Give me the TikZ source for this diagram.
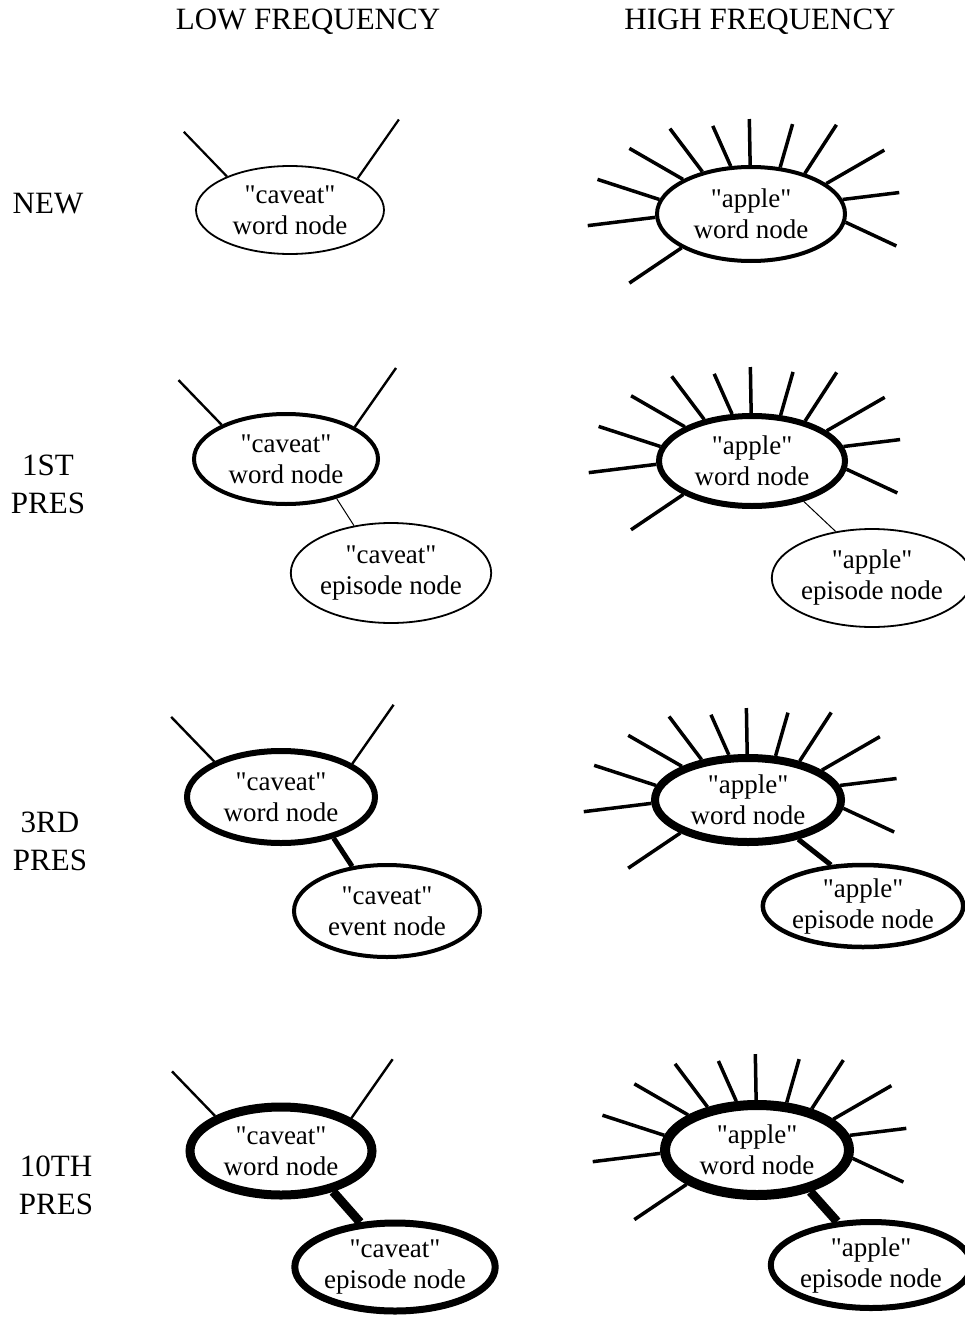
\documentclass[tikz,border=0pt]{standalone}
\usepackage{fontspec}
\setmainfont{Liberation Serif}[Ligatures=TeXOff]
\usetikzlibrary{shapes.geometric}
\newcommand\hirays[2]{%
  \foreach \a/\b/\l in {182/187/68, 171/162/65, 153/150/62, 139/127/54, 113/114/44, 91/91/46, 58/74/45, 37/57/58, 22/30/67, 9/7/57, -5/-25/56, 206/214/63}
    \draw[line width=#2] (#1.\a) -- ++(\b:\l);}
\newcommand\lorays[2]{%
  \foreach \a/\b/\l in {152/134/62, 25/55/72}
    \draw[line width=#2] (#1.\a) -- ++(\b:\l);}
\begin{document}
\begin{tikzpicture}[x=1pt,y=1pt,
  nd/.style={ellipse, draw, inner sep=0pt, align=center, font=\fontsize{27}{31}\selectfont},
  lab/.style={align=center, font=\fontsize{31}{38}\selectfont},
  link/.style={line width=#1}]
\useasboundingbox (0,0) rectangle (965,-1319);
% headers
\node[lab] (hlow) at (308,-22) {LOW FREQUENCY};
\node[lab] (hhigh) at (760,-22) {HIGH FREQUENCY};
% row labels
\node[lab] (lnew) at (48,-204) {NEW};
\node[lab] (l1st) at (48,-484) {1ST\\PRES};
\node[lab] (l3rd) at (50,-841) {3RD\\PRES};
\node[lab] (l10th) at (56,-1185) {10TH\\PRES};
% row 1
\node[nd, line width=1.8, minimum width=188, minimum height=88] (w1l) at (290,-210) {"caveat"\\word node};
\lorays{w1l}{2.2}
\node[nd, line width=4, minimum width=188, minimum height=94] (w1r) at (751,-214) {"apple"\\word node};
\hirays{w1r}{3.5}
% row 2
\node[nd, line width=4, minimum width=184, minimum height=90] (w2l) at (286,-459) {"caveat"\\word node};
\lorays{w2l}{2.4}
\node[nd, line width=1.8, minimum width=186, minimum height=100] (e2l) at (391,-573) {"caveat"\\episode node};
\draw[link=1] (w2l.-38) -- (e2l.128);
\node[nd, line width=6, minimum width=186, minimum height=90] (w2r) at (752,-461) {"apple"\\word node};
\hirays{w2r}{3.5}
\node[nd, line width=1.8, minimum width=180, minimum height=98] (e2r) at (872,-578) {"apple"\\episode node};
\draw[link=1] (w2r.-38) -- (e2r.128);
% row 3
\node[nd, line width=6, minimum width=188, minimum height=92] (w3l) at (281,-797) {"caveat"\\word node};
\lorays{w3l}{2.4}
\node[nd, line width=4, minimum width=186, minimum height=92] (e3l) at (387,-911) {"caveat"\\event node};
\draw[link=5] (w3l.-38) -- (e3l.128);
\node[nd, line width=8, minimum width=186, minimum height=84] (w3r) at (748,-800) {"apple"\\word node};
\hirays{w3r}{3.5}
\node[nd, line width=4.5, minimum width=176, minimum height=82] (e3r) at (863,-906) {"apple"\\episode node};
\draw[link=5] (w3r.-38) -- (e3r.128);
% row 4
\node[nd, line width=9, minimum width=182, minimum height=88] (w4l) at (281,-1151) {"caveat"\\word node};
\lorays{w4l}{2.4}
\node[nd, line width=7, minimum width=188, minimum height=88] (e4l) at (395,-1267) {"caveat"\\episode node};
\draw[link=9] (w4l.-38) -- (e4l.128);
\node[nd, line width=10, minimum width=184, minimum height=90] (w4r) at (757,-1150) {"apple"\\word node};
\hirays{w4r}{3.5}
\node[nd, line width=6, minimum width=178, minimum height=86] (e4r) at (871,-1265) {"apple"\\episode node};
\draw[link=9] (w4r.-38) -- (e4r.128);
\end{tikzpicture}
\end{document}
